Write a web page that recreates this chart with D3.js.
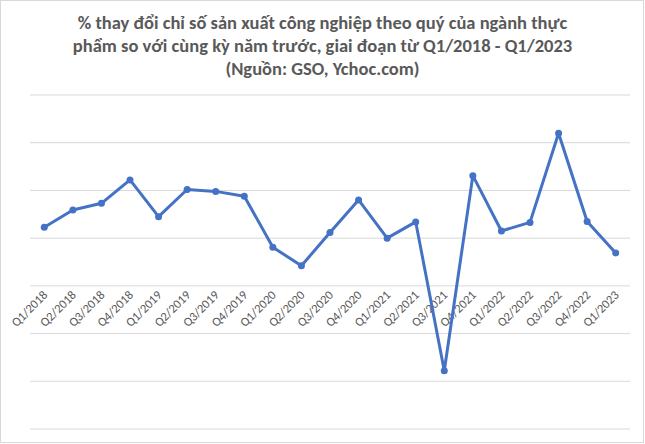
<!DOCTYPE html>
<html><head><meta charset="utf-8">
<script src="https://cdn.jsdelivr.net/npm/d3@7"></script>
<style>body{margin:0;background:#fff}</style>
</head><body>
<svg id="c" width="645" height="444"></svg>
<script>
const categories = ["Q1/2018","Q2/2018","Q3/2018","Q4/2018","Q1/2019","Q2/2019","Q3/2019","Q4/2019","Q1/2020","Q2/2020","Q3/2020","Q4/2020","Q1/2021","Q2/2021","Q3/2021","Q4/2021","Q1/2022","Q2/2022","Q3/2022","Q4/2022","Q1/2023"];
const values = [6.15,7.95,8.65,11.1,7.25,10.1,9.9,9.4,4.05,2.1,5.6,9.0,5.0,6.7,-8.9,11.55,5.75,6.65,16.0,6.75,3.45];
const yTicks = [-15,-10,-5,0,5,10,15,20];
const titleLines = ["% thay đổi chỉ số sản xuất công nghiệp theo quý của ngành thực","phẩm so với cùng kỳ năm trước, giai đoạn từ Q1/2018 - Q1/2023","(Nguồn: GSO, Ychoc.com)"];

const svg = d3.select("#c");
const W = 645, H = 444;
svg.append("rect").attr("x",0.5).attr("y",0.5).attr("width",W-2).attr("height",H-2)
  .attr("fill","#fff").attr("stroke","#d9d9d9");

const font = "Carlito, 'Open Sans', sans-serif";
const x = d3.scaleBand().domain(categories).range([30,630]);
const y = d3.scaleLinear().domain([-15,20]).range([429,95]);

// title
svg.append("g").selectAll("text").data(titleLines).join("text")
  .attr("x", W/2).attr("y",(d,i)=>29+i*23)
  .attr("text-anchor","middle").attr("font-family",font).attr("font-weight","bold")
  .attr("font-size",18.5).attr("fill","#595959").text(d=>d);

// gridlines
svg.append("g").selectAll("line").data(yTicks).join("line")
  .attr("x1",30).attr("x2",630).attr("y1",d=>y(d)).attr("y2",d=>y(d))
  .attr("stroke","#d9d9d9").attr("stroke-width",1);

// x axis labels
const ax = svg.append("g").attr("transform",`translate(0,${y(0)})`)
  .call(d3.axisBottom(x).tickSize(0).tickPadding(0));
ax.select(".domain").remove();
ax.selectAll("text")
  .attr("font-family",font).attr("font-size",12.5).attr("fill","#595959")
  .attr("text-anchor","end").attr("dy",0)
  .attr("transform","translate(4,10) rotate(-45)");

// line
const cx = d=>x(d)+x.bandwidth()/2;
const data = categories.map((c,i)=>({c,v:values[i]}));
svg.append("path").datum(data)
  .attr("d",d3.line().x(d=>cx(d.c)).y(d=>y(d.v)))
  .attr("fill","none").attr("stroke","#4472C4").attr("stroke-width",3).attr("stroke-linejoin","round");
svg.append("g").selectAll("circle").data(data).join("circle")
  .attr("cx",d=>cx(d.c)).attr("cy",d=>y(d.v)).attr("r",3.5).attr("fill","#4472C4");
</script>
</body></html>
